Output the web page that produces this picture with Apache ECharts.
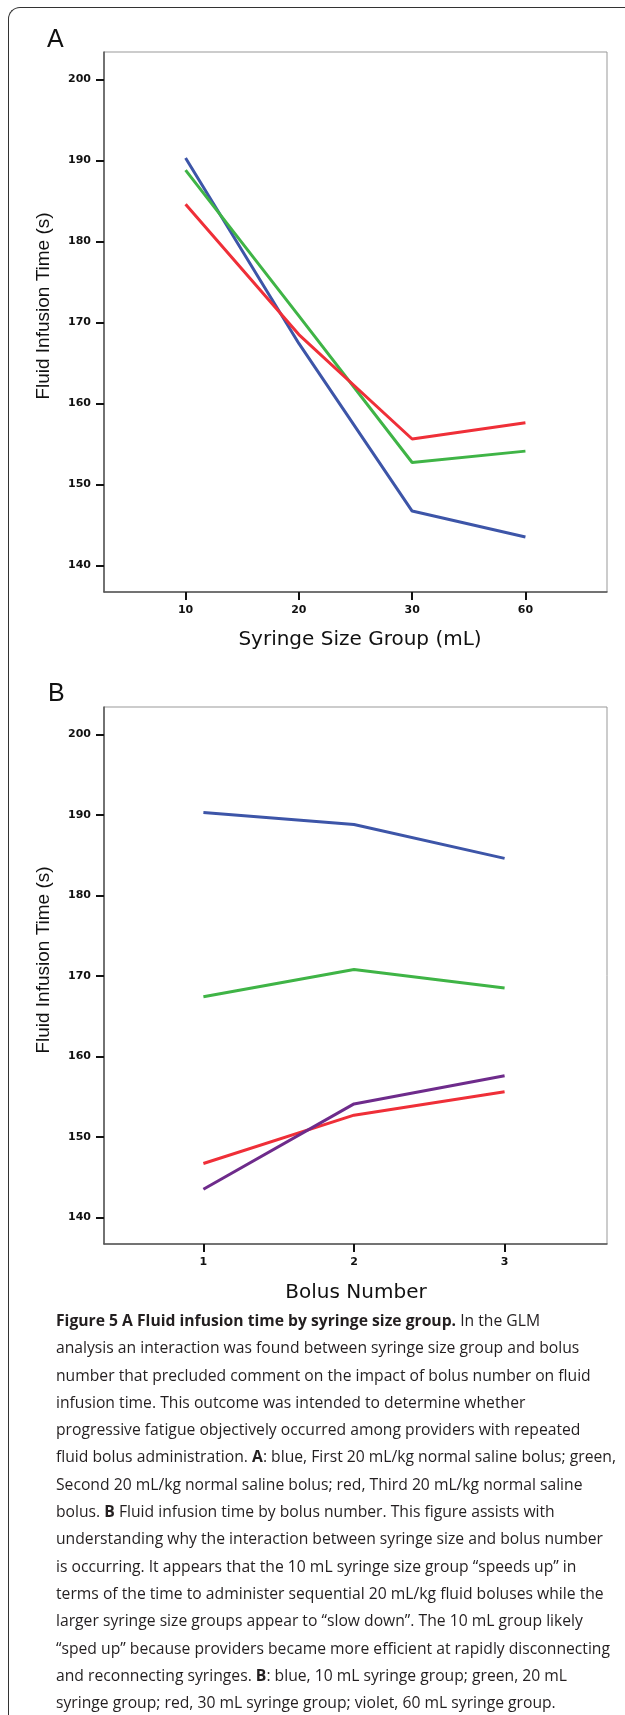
<!DOCTYPE html>
<html>
<head>
<meta charset="utf-8">
<script src="https://cdn.jsdelivr.net/npm/echarts@6/dist/echarts.min.js"></script>
<style>
  body { margin: 0; width: 625px; height: 1715px; background: #fff; position: relative; overflow: hidden; }
  .frame {
    position: absolute; left: 8px; top: 7px; width: 700px; height: 1800px;
    border-top: 1.5px solid #333; border-left: 1.5px solid #333; border-top-left-radius: 12px;
  }
  #chart { position: absolute; left: 0; top: 0; width: 625px; height: 1310px; }
  .caption {
    position: absolute; left: 56px; top: 1307px;
    font-family: "Open Sans", sans-serif; font-size: 15.7px; line-height: 27.3px; color: #231f20;
    white-space: nowrap;
  }
  .caption b { font-weight: bold; }
</style>
</head>
<body>
<div class="frame"></div>
<div id="chart"></div>
<div class="caption">
  <div><b>Figure 5 A Fluid infusion time by syringe size group.</b> In the GLM</div>
  <div>analysis an interaction was found between syringe size group and bolus</div>
  <div>number that precluded comment on the impact of bolus number on fluid</div>
  <div>infusion time. This outcome was intended to determine whether</div>
  <div>progressive fatigue objectively occurred among providers with repeated</div>
  <div>fluid bolus administration. <b>A</b>: blue, First 20 mL/kg normal saline bolus; green,</div>
  <div>Second 20 mL/kg normal saline bolus; red, Third 20 mL/kg normal saline</div>
  <div>bolus. <b>B</b> Fluid infusion time by bolus number. This figure assists with</div>
  <div>understanding why the interaction between syringe size and bolus number</div>
  <div>is occurring. It appears that the 10 mL syringe size group “speeds up” in</div>
  <div>terms of the time to administer sequential 20 mL/kg fluid boluses while the</div>
  <div>larger syringe size groups appear to “slow down”. The 10 mL group likely</div>
  <div>“sped up” because providers became more efficient at rapidly disconnecting</div>
  <div>and reconnecting syringes. <b>B</b>: blue, 10 mL syringe group; green, 20 mL</div>
  <div>syringe group; red, 30 mL syringe group; violet, 60 mL syringe group.</div>
</div>
<script>
  // categories and tick labels
  var syringeGroups = ['10', '20', '30', '60']
  var bolusNumbers = ['1', '2', '3']
  var yTicks = [140, 150, 160, 170, 180, 190, 200]

  // panel A: one line per bolus, across syringe groups
  var bolus1 = [190.3, 167.4, 146.7, 143.5]
  var bolus2 = [188.8, 170.8, 152.7, 154.1]
  var bolus3 = [184.6, 168.5, 155.6, 157.6]

  // panel B: one line per syringe group, across bolus numbers
  var group10 = [190.3, 188.8, 184.6]
  var group20 = [167.4, 170.8, 168.5]
  var group30 = [146.7, 152.7, 155.6]
  var group60 = [143.5, 154.1, 157.6]

  var BLUE = '#3d55a8'
  var GREEN = '#3fb446'
  var RED = '#ef2f38'
  var VIOLET = '#6e2b8b'

  function toPoints (arr) {
    return arr.map(function (v, i) { return [i + 1, v] })
  }
  function positions (labels) {
    return labels.map(function (l, i) { return i + 1 })
  }

  var tickFont = { fontFamily: 'DejaVu Sans', fontWeight: 'bold', fontSize: 11, color: '#111' }

  function makeX (gridIndex, labels, min, max) {
    return {
      type: 'value', gridIndex: gridIndex, min: min, max: max,
      splitLine: { show: false },
      axisLine: { show: true, lineStyle: { color: '#555', width: 1.5 } },
      axisTick: { show: true, length: 8, customValues: positions(labels), lineStyle: { color: '#111', width: 2 } },
      axisLabel: Object.assign({
        margin: 13,
        customValues: positions(labels),
        formatter: function (v) { return labels[Math.round(v) - 1] }
      }, tickFont)
    }
  }
  function makeY (gridIndex) {
    return {
      type: 'value', gridIndex: gridIndex, min: 136.7, max: 203.4,
      splitLine: { show: false },
      axisLine: { show: true, lineStyle: { color: '#555', width: 1.5 } },
      axisTick: { show: true, length: 8, customValues: yTicks, lineStyle: { color: '#111', width: 2 } },
      axisLabel: Object.assign({ margin: 13, customValues: yTicks }, tickFont)
    }
  }
  function line (name, data, color, axisIndex) {
    return {
      name: name, type: 'line', xAxisIndex: axisIndex, yAxisIndex: axisIndex,
      data: toPoints(data), showSymbol: false, symbol: 'none', silent: true,
      lineStyle: { color: color, width: 3 }
    }
  }

  var titleFont = '20px "DejaVu Sans"'
  var yTitleFont = '19px "Liberation Sans"'
  var letterFont = '25px "Liberation Sans"'

  var myChart = echarts.init(document.getElementById('chart'))
  var option = {
    animation: false,
    backgroundColor: 'transparent',
    grid: [
      { left: 104, top: 52, width: 503, height: 540, show: true, borderColor: '#999', borderWidth: 1 },
      { left: 104, top: 707, width: 503, height: 537, show: true, borderColor: '#999', borderWidth: 1 }
    ],
    xAxis: [
      makeX(0, syringeGroups, 0.28, 4.72),
      makeX(1, bolusNumbers, 0.34, 3.68)
    ],
    yAxis: [makeY(0), makeY(1)],
    series: [
      line('First bolus', bolus1, BLUE, 0),
      line('Second bolus', bolus2, GREEN, 0),
      line('Third bolus', bolus3, RED, 0),
      line('10 mL', group10, BLUE, 1),
      line('20 mL', group20, GREEN, 1),
      line('30 mL', group30, RED, 1),
      line('60 mL', group60, VIOLET, 1)
    ],
    graphic: [
      { type: 'text', x: 47, y: 40, style: { text: 'A', font: letterFont, fill: '#111', verticalAlign: 'middle' } },
      { type: 'text', x: 48, y: 694, style: { text: 'B', font: letterFont, fill: '#111', verticalAlign: 'middle' } },
      { type: 'text', x: 44, y: 306, rotation: Math.PI / 2,
        style: { text: 'Fluid Infusion Time (s)', font: yTitleFont, fill: '#111', align: 'center', verticalAlign: 'middle' } },
      { type: 'text', x: 44, y: 960, rotation: Math.PI / 2,
        style: { text: 'Fluid Infusion Time (s)', font: yTitleFont, fill: '#111', align: 'center', verticalAlign: 'middle' } },
      { type: 'text', x: 360, y: 640,
        style: { text: 'Syringe Size Group (mL)', font: titleFont, fill: '#111', align: 'center', verticalAlign: 'middle' } },
      { type: 'text', x: 356, y: 1293,
        style: { text: 'Bolus Number', font: titleFont, fill: '#111', align: 'center', verticalAlign: 'middle' } }
    ]
  }
  myChart.setOption(option)
</script>
</body>
</html>
